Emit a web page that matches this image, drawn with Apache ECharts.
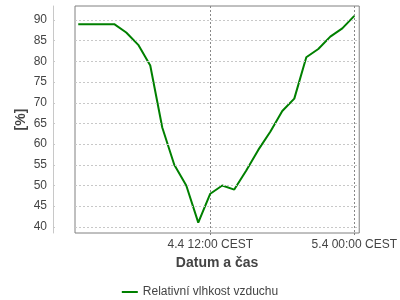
<!DOCTYPE html>
<html><head><meta charset="utf-8">
<script src="https://cdn.jsdelivr.net/npm/echarts@6/dist/echarts.min.js"></script>
<style>html,body{margin:0;padding:0;background:#fff}#c{width:400px;height:300px}</style>
</head><body><div id="c"></div>
<script>
// hours since 4.4 00:00
const hours = [1,2,3,4,5,6,7,8,9,10,11,12,13,14,15,16,17,18,19,20,21,22,23,24];
const humidity = [89,89,89,89,87,84,79,64,55,50,41,48,50,49,53.6,58.6,63,68,71,81,83,86,88,91];
const xTickValues = [12,24];
const xTickLabels = {12:'4.4 12:00 CEST', 24:'5.4 00:00 CEST'};
const yTickValues = [40,45,50,55,60,65,70,75,80,85,90];
const seriesName = 'Relativní vlhkost vzduchu';

const chart = echarts.init(document.getElementById('c'));
chart.setOption({
  animation:false,
  backgroundColor:'#fff',
  textStyle:{fontFamily:'Liberation Sans'},
  grid:{left:75,right:35,top:6,bottom:67,show:true,borderColor:'#808080',borderWidth:1,backgroundColor:'#fff'},
  xAxis:{type:'value',min:0.73,max:24.41,
    name:'Datum a čas',nameLocation:'middle',nameGap:23,
    nameTextStyle:{fontFamily:'Liberation Sans',fontWeight:'bold',fontSize:14,color:'#444'},
    axisLine:{show:false},
    axisTick:{show:true,length:2,customValues:xTickValues,lineStyle:{color:'#808080'}},
    axisLabel:{customValues:xTickValues,formatter:v=>xTickLabels[v]||'',color:'#444',fontSize:12,margin:6,showMinLabel:true,showMaxLabel:true},
    splitLine:{show:true,lineStyle:{color:'#888',type:[2,2],width:1}}
  },
  yAxis:{type:'value',min:38.5,max:93.4,offset:22,
    name:'[%]',nameLocation:'middle',nameGap:25,nameRotate:90,nameMoveOverlap:false,
    nameTextStyle:{fontFamily:'Liberation Sans',fontWeight:'bold',fontSize:14,color:'#444'},
    axisLine:{show:true,lineStyle:{color:'#c8c8c8'}},
    axisTick:{show:true,length:2,inside:true,customValues:yTickValues,lineStyle:{color:'#c8c8c8'}},
    axisLabel:{customValues:yTickValues,color:'#444',fontSize:12,margin:6},
    splitLine:{show:false}
  },
  legend:{top:281,left:'center',itemWidth:16,itemHeight:2,icon:'rect',
    textStyle:{fontFamily:'Liberation Sans',fontSize:12,color:'#444'},itemGap:4},
  series:[{name:seriesName,type:'line',data:hours.map((h,i)=>[h,humidity[i]]),
    showSymbol:false,symbol:'none',lineStyle:{color:'#008000',width:2},itemStyle:{color:'#008000'},
    markLine:{silent:true,symbol:'none',label:{show:false},
      lineStyle:{color:'#c8c8c8',type:[2,2],width:1},
      data:yTickValues.map(v=>({yAxis:v}))}
  }]
});
</script></body></html>
